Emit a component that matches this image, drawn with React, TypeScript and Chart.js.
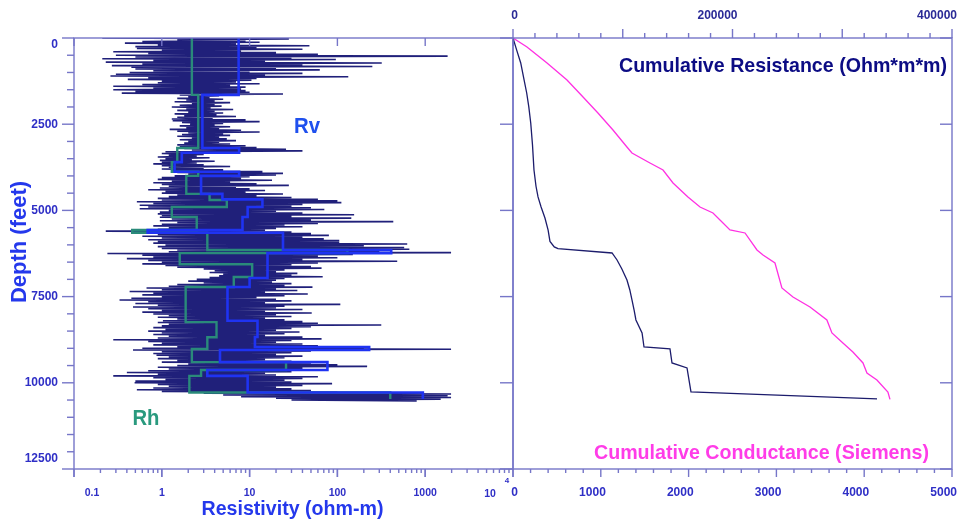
import React, { useEffect, useRef } from 'react';
import { Chart, registerables } from 'chart.js';

Chart.register(...registerables);

// ---------------- DATA ----------------
// Raw induction log (ohm-m), one low/high excursion per sample interval.
const SAMPLE_STEP_FT = 50;
const rawLow = [
  0.21, 1.5, 0.6, 0.38, 0.9, 0.5, 0.52, 1.0, 0.28, 0.7, 0.3, 0.5, 0.21, 0.8, 0.23, 0.6, 0.27, 0.45, 0.5, 0.8,
  0.43, 0.3, 0.26, 0.7, 0.41, 1.0, 0.9, 0.6, 0.28, 0.8, 0.28, 0.5, 0.35, 1.6, 2.0, 1.5, 1.9, 1.4, 2.2, 1.6,
  1.3, 1.9, 1.5, 2.0, 1.4, 1.8, 1.5, 1.3, 1.33, 1.7, 2.1, 1.6, 1.9, 1.23, 1.5, 2.0, 1.7, 1.5, 2.2, 1.6,
  2.0, 1.8, 1.5, 1.6, 1.8, 2.2, 1.1, 1.0, 1.2, 0.9, 1.1, 0.95, 1.0, 0.8, 1.0, 1.2, 1.0, 1.3, 1.5, 2.0,
  1.4, 1.0, 0.9, 1.3, 0.8, 1.0, 1.2, 0.95, 0.7, 1.1, 1.0, 1.5, 1.2, 0.9, 1.0, 0.52, 0.8, 0.56, 0.7, 0.56,
  1.2, 0.95, 0.9, 1.0, 0.95, 1.3, 0.95, 1.5, 1.0, 0.8, 1.2, 0.9, 0.23, 0.67, 0.9, 0.6, 1.0, 0.7, 0.9, 0.8,
  1.1, 0.9, 1.0, 1.5, 1.2, 0.24, 0.6, 0.8, 0.4, 0.7, 1.0, 0.6, 1.1, 1.5, 3.0, 4.0, 3.5, 5.0, 4.5, 3.5,
  2.5, 2.0, 3.0, 1.5, 1.2, 0.67, 1.0, 0.43, 0.8, 0.6, 1.0, 0.45, 0.33, 0.7, 0.5, 0.9, 0.47, 0.7, 1.0, 0.6,
  0.8, 1.2, 0.9, 1.5, 1.03, 0.9, 1.2, 1.0, 0.8, 1.1, 0.7, 1.0, 0.8, 1.2, 0.9, 0.28, 0.7, 1.0, 0.8, 1.5,
  0.6, 0.47, 1.0, 0.8, 0.87, 1.2, 0.9, 1.5, 1.0, 2.0, 1.5, 0.9, 1.2, 0.7, 0.4, 0.9, 0.28, 0.8, 1.1, 0.5,
  0.49, 0.9, 1.2, 0.8, 0.52, 1.0, 3, 5, 8, 20, 30,
];
const rawHigh = [
  28, 9, 13, 7, 48, 12, 40, 8, 20, 60, 1800, 30, 96, 15, 320, 40, 250, 20, 63, 10,
  40, 15, 133, 12, 10.5, 7, 13, 6, 9, 8, 9, 10, 24, 4.5, 3.5, 5, 4, 6, 4, 4.8,
  3.6, 6.5, 4, 5, 4.2, 7, 3.8, 9, 13, 5, 4, 6, 4.5, 8, 13, 5, 6, 4.5, 5.5, 7,
  4.5, 6, 9, 12, 26, 40, 6, 3, 2.5, 3.5, 2.2, 4, 2.5, 3, 6, 3, 5, 14, 24, 20,
  10, 8, 18, 6, 12, 28, 7, 10, 15, 9, 24, 12, 30, 60, 100, 111, 40, 30, 50, 71,
  20, 40, 155, 30, 144, 50, 433, 60, 25, 40, 20, 15, 30, 50, 80, 40, 70, 105, 105, 624,
  200, 576, 660, 300, 1970, 150, 60, 100, 40, 480, 60, 30, 50, 66, 25, 20, 35, 30, 68, 25,
  20, 18, 30, 25, 52, 20, 35, 15, 46, 25, 12, 20, 30, 15, 108, 25, 20, 40, 15, 51,
  20, 30, 15, 25, 40, 60, 316, 50, 30, 20, 37, 25, 15, 40, 66, 30, 20, 40, 60, 200,
  1970, 50, 30, 20, 40, 25, 15, 30, 50, 100, 218, 40, 25, 30, 15, 20, 60, 40, 25, 30,
  87, 40, 20, 30, 50, 100, 1970, 1800, 1970, 1500, 800,
];

// Blocky inverted layer model: vertical (Rv) and horizontal (Rh) resistivity.
const rvTop = [0, 1650, 3190, 3330, 3600, 3880, 4000, 4520, 4680, 4900, 5190, 5570, 5650, 6150, 6240, 6960, 7220, 8200, 8670, 8960, 9050, 9400, 9630, 9800, 10280];
const rvValue = [7.5, 2.9, 7.6, 1.69, 1.4, 7.6, 2.8, 4.9, 14, 9.5, 8.3, 0.69, 24, 410, 16, 10, 5.6, 12.3, 11.5, 230, 4.6, 77, 3.3, 9.5, 940];
const rhTop = [0, 1650, 3190, 3600, 3880, 4000, 4520, 4700, 4900, 5190, 5570, 5650, 6150, 6240, 6560, 6930, 7220, 8240, 8680, 9020, 9400, 9630, 9800, 10280];
const rhValue = [2.2, 2.6, 1.5, 1.3, 2.6, 1.9, 3.5, 5.5, 1.3, 2.5, 0.46, 3.3, 130, 1.6, 10.7, 6.6, 1.87, 4.2, 3.3, 2.2, 26, 2.8, 2.06, 400];
const LAYER_BASE_FT = 10470;

// Cumulative conductance (Siemens) vs depth
const condDepth = [0, 350, 725, 1200, 1595, 2000, 2465, 3100, 3830, 4300, 4610, 4900, 5220, 5570, 5900, 6060, 6110, 6235, 6438, 6700, 7018, 7300, 7598, 7900, 8178, 8555, 8961, 9019, 9425, 9570, 10266, 10469];
const condValue = [0, 42, 88, 125, 156, 180, 202, 222, 239, 262, 285, 320, 364, 400, 421, 470, 512, 1128, 1185, 1240, 1298, 1330, 1355, 1380, 1400, 1470, 1492, 1788, 1811, 1982, 2027, 4146];

// Cumulative resistance (Ohm*m*m) vs depth
const resDepth = [0, 261, 725, 1218, 1711, 2175, 2668, 3161, 3335, 3625, 3828, 4205, 4611, 4901, 5075, 5278, 5568, 5655, 6148, 6293, 6525, 7250, 7511, 7801, 8178, 8555, 8845, 9106, 9425, 9715, 9918, 10266, 10480];
const resValue = [0, 12750, 31000, 49200, 63800, 77400, 91100, 103800, 108400, 124800, 136700, 145800, 159400, 170400, 182200, 188600, 197700, 211400, 222300, 227800, 238700, 245000, 255100, 270600, 286000, 290600, 300600, 309700, 318900, 322500, 331600, 341600, 343500];

// Axes / ticks
const DEPTH_MAX = 12500;
const depthMajorTicks = [0, 2500, 5000, 7500, 10000, 12500];
const depthMinorStep = 500;
const resistivityTicks = [0.1, 1, 10, 100, 1000, 10000];
const resistivityLabels = ['0.1', '1', '10', '100', '1000', ''];
const conductanceTicks = [0, 1000, 2000, 3000, 4000, 5000];
const conductanceMinorStep = 200;
const resistanceTicks = [0, 200000, 400000];
const resistanceMinorStep = 20000;
const resistanceMajorStep = 100000;

// ---------------- STYLE ----------------
const FONT = '"Liberation Sans", Arial, Helvetica, sans-serif';
const AXIS_COLOR = '#7676c8';
const LABEL_COLOR = '#2f2fc6';
const TOP_LABEL_COLOR = '#2a2a96';
const TITLE_COLOR = '#2438ec';

function seg(ctx: CanvasRenderingContext2D, x1: number, y1: number, x2: number, y2: number) {
  ctx.beginPath();
  ctx.moveTo(x1, y1);
  ctx.lineTo(x2, y2);
  ctx.stroke();
}

function layerPath(tops: number[], vals: number[], base: number) {
  const pts: { x: number; y: number }[] = [];
  for (let i = 0; i < tops.length; i++) {
    const bottom = i + 1 < tops.length ? tops[i + 1] : base;
    pts.push({ x: vals[i], y: tops[i] });
    pts.push({ x: vals[i], y: bottom });
  }
  return pts;
}

function rawPath() {
  const pts: { x: number; y: number }[] = [];
  for (let i = 0; i < rawLow.length; i++) {
    const d = i * SAMPLE_STEP_FT;
    pts.push({ x: rawLow[i], y: d });
    pts.push({ x: rawHigh[i], y: d + SAMPLE_STEP_FT / 2 });
  }
  return pts;
}

const leftAxesPlugin = {
  id: 'leftAxes',
  afterDraw(chart: any) {
    const { ctx, chartArea: a, scales } = chart;
    const x = scales.x;
    const y = scales.y;
    ctx.save();
    ctx.strokeStyle = AXIS_COLOR;
    ctx.lineWidth = 1.4;
    ctx.strokeRect(a.left, a.top, a.right - a.left, a.bottom - a.top);
    for (let d = 0; d <= DEPTH_MAX; d += depthMinorStep) {
      const py = y.getPixelForValue(d);
      const major = depthMajorTicks.includes(d);
      seg(ctx, a.left - (major ? 12 : 7), py, a.left, py);
      if (major) seg(ctx, a.right - 13, py, a.right, py);
    }
    for (let e = -1; e < 4; e++) {
      for (let k = 1; k < 10; k++) {
        const px = x.getPixelForValue(k * Math.pow(10, e));
        seg(ctx, px, a.bottom, px, a.bottom + (k === 1 ? 8 : 4));
      }
    }
    for (const v of resistivityTicks) {
      const px = x.getPixelForValue(v);
      seg(ctx, px, a.bottom, px, a.bottom + 8);
      seg(ctx, px, a.top, px, a.top + 8);
    }
    ctx.fillStyle = LABEL_COLOR;
    ctx.font = `bold 12px ${FONT}`;
    ctx.textAlign = 'right';
    ctx.textBaseline = 'middle';
    for (const d of depthMajorTicks) {
      let py = y.getPixelForValue(d);
      if (d === 0) py += 7;
      if (d === DEPTH_MAX) py -= 10;
      ctx.fillText(String(d), a.left - 16, py);
    }
    ctx.font = `bold 10.5px ${FONT}`;
    ctx.textAlign = 'center';
    resistivityTicks.forEach((v, i) => {
      const px = x.getPixelForValue(v) + (i === 0 ? 18 : 0);
      if (resistivityLabels[i]) ctx.fillText(resistivityLabels[i], px, a.bottom + 24);
    });
    const p4 = x.getPixelForValue(10000);
    ctx.fillText('10', p4 - 23, a.bottom + 25);
    ctx.font = `bold 8px ${FONT}`;
    ctx.fillText('4', p4 - 6, a.bottom + 12);
    ctx.fillStyle = TITLE_COLOR;
    ctx.font = `bold 20px ${FONT}`;
    ctx.fillText('Resistivity (ohm-m)', (a.left + a.right) / 2 - 1, a.bottom + 40, 182);
    ctx.save();
    ctx.translate(20, 242);
    ctx.rotate(-Math.PI / 2);
    ctx.font = `bold 22px ${FONT}`;
    ctx.fillText('Depth (feet)', 0, 0, 125);
    ctx.restore();
    ctx.font = `bold 22px ${FONT}`;
    ctx.fillStyle = '#1f50ee';
    ctx.fillText('Rv', x.getPixelForValue(45), y.getPixelForValue(2580), 26);
    ctx.fillStyle = '#2a9a7e';
    ctx.fillText('Rh', x.getPixelForValue(0.66), y.getPixelForValue(11050), 27);
    ctx.restore();
  },
};

const rightAxesPlugin = {
  id: 'rightAxes',
  afterDraw(chart: any) {
    const { ctx, chartArea: a, scales } = chart;
    const xb = scales.x;
    const xt = scales.x2;
    const y = scales.y;
    ctx.save();
    ctx.strokeStyle = AXIS_COLOR;
    ctx.lineWidth = 1.4;
    ctx.strokeRect(a.left, a.top, a.right - a.left, a.bottom - a.top);
    for (let v = 0; v <= resistanceTicks[resistanceTicks.length - 1]; v += resistanceMinorStep) {
      const px = xt.getPixelForValue(v);
      seg(ctx, px, a.top - (v % resistanceMajorStep === 0 ? 9 : 5), px, a.top);
    }
    for (let v = 0; v <= conductanceTicks[conductanceTicks.length - 1]; v += conductanceMinorStep) {
      const px = xb.getPixelForValue(v);
      seg(ctx, px, a.bottom, px, a.bottom + (conductanceTicks.includes(v) ? 8 : 4));
    }
    for (const d of depthMajorTicks) {
      const py = y.getPixelForValue(d);
      seg(ctx, a.right - 12, py, a.right, py);
    }
    ctx.textBaseline = 'middle';
    ctx.textAlign = 'right';
    ctx.font = `bold 12px ${FONT}`;
    ctx.fillStyle = TOP_LABEL_COLOR;
    for (const v of resistanceTicks) ctx.fillText(String(v), xt.getPixelForValue(v) + 5, a.top - 22);
    ctx.fillStyle = LABEL_COLOR;
    for (const v of conductanceTicks) ctx.fillText(String(v), xb.getPixelForValue(v) + 5, a.bottom + 24);
    ctx.textAlign = 'center';
    ctx.font = `bold 21px ${FONT}`;
    ctx.fillStyle = '#0c0c84';
    ctx.fillText('Cumulative Resistance (Ohm*m*m)', xb.getPixelForValue(3075), y.getPixelForValue(812), 328);
    ctx.fillStyle = '#ff3ce8';
    ctx.fillText('Cumulative Conductance (Siemens)', xb.getPixelForValue(2830), y.getPixelForValue(12035), 335);
    ctx.restore();
  },
};

export default function App() {
  const leftRef = useRef<HTMLCanvasElement>(null);
  const rightRef = useRef<HTMLCanvasElement>(null);

  useEffect(() => {
    const common = {
      animation: false as const,
      responsive: false,
      events: [] as any[],
      plugins: { legend: { display: false }, tooltip: { enabled: false }, title: { display: false } },
    };
    const left = new Chart(leftRef.current as HTMLCanvasElement, {
      type: 'scatter',
      data: {
        datasets: [
          { data: layerPath(rvTop, rvValue, LAYER_BASE_FT), showLine: true, borderColor: '#1f33f2', borderWidth: 2.6, pointRadius: 0, order: 0 },
          { data: layerPath(rhTop, rhValue, LAYER_BASE_FT), showLine: true, borderColor: '#2a8a7a', borderWidth: 2.4, pointRadius: 0, order: 1 },
          { data: rawPath(), showLine: true, borderColor: 'rgba(8,8,108,0.9)', borderWidth: 1.6, pointRadius: 0, order: 2 },
        ],
      } as any,
      options: {
        ...common,
        layout: { padding: { left: 74, right: 447, top: 38, bottom: 55 } },
        scales: {
          x: { type: 'logarithmic', min: 0.1, max: 10000, display: false },
          y: { type: 'linear', min: 0, max: DEPTH_MAX, reverse: true, display: false },
        },
      } as any,
      plugins: [leftAxesPlugin],
    });
    const right = new Chart(rightRef.current as HTMLCanvasElement, {
      type: 'scatter',
      data: {
        datasets: [
          { data: condDepth.map((d, i) => ({ x: condValue[i], y: d })), xAxisID: 'x', yAxisID: 'y', showLine: true, borderColor: '#1c1c6c', borderWidth: 1.3, pointRadius: 0 },
          { data: resDepth.map((d, i) => ({ x: resValue[i], y: d })), xAxisID: 'x2', yAxisID: 'y', showLine: true, borderColor: '#ff30e2', borderWidth: 1.3, pointRadius: 0 },
        ],
      } as any,
      options: {
        ...common,
        layout: { padding: { left: 513, right: 8, top: 38, bottom: 55 } },
        scales: {
          x: { type: 'linear', axis: 'x', position: 'bottom', min: 0, max: 5000, display: false },
          x2: { type: 'linear', axis: 'x', position: 'top', min: 0, max: 400000, display: false },
          y: { type: 'linear', min: 0, max: DEPTH_MAX, reverse: true, display: false },
        },
      } as any,
      plugins: [rightAxesPlugin],
    });
    return () => {
      left.destroy();
      right.destroy();
    };
  }, []);

  return (
    <div style={{ position: 'absolute', left: 0, top: 0, width: 960, height: 524, background: '#ffffff' }}>
      <canvas ref={leftRef} width={960} height={524} style={{ position: 'absolute', left: 0, top: 0 }} />
      <canvas ref={rightRef} width={960} height={524} style={{ position: 'absolute', left: 0, top: 0 }} />
    </div>
  );
}
